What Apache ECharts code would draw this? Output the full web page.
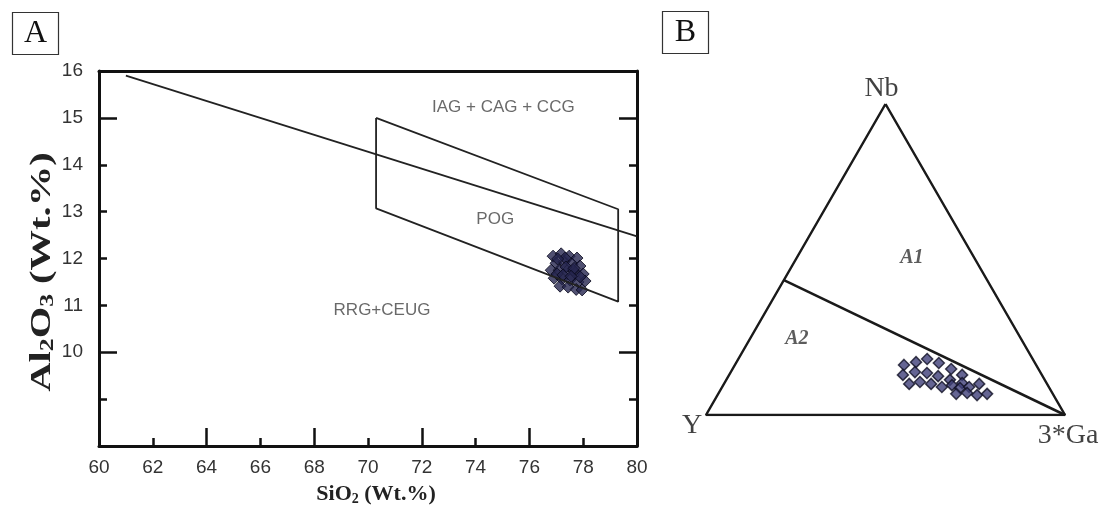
<!DOCTYPE html>
<html><head><meta charset="utf-8">
<script src="https://cdn.jsdelivr.net/npm/echarts@6/dist/echarts.min.js"></script>
<style>html,body{margin:0;padding:0;background:#fff}#c{width:1104px;height:505px}</style>
</head><body><div id="c"></div>
<script>
// ---------- Panel A : SiO2 vs Al2O3 ----------
const sio2  = [76.88,77.18,77.48,77.77,76.99,77.29,77.59,77.88,76.81,77.11,77.40,77.70,78.00,76.92,77.22,77.51,77.81,78.07,77.14,77.44,77.74,77.96,77.33,77.63,77.03,77.88,77.05,77.36,77.66,77.25,77.55];
const al2o3 = [12.05,12.10,12.05,12.01,11.90,11.93,11.88,11.84,11.75,11.75,11.73,11.69,11.67,11.58,11.56,11.54,11.50,11.52,11.41,11.39,11.34,11.33,12.01,11.75,11.67,11.61,11.99,11.82,11.79,11.65,11.62];
const xTickValues = [60,62,64,66,68,70,72,74,76,78,80];
const yTickLabels = [10,11,12,13,14,15,16];
const dividerX = [61, 80];
const dividerY = [15.9, 12.47];
const pogX = [70.3, 79.3, 79.3, 70.3, 70.3];
const pogY = [15.0, 13.05, 11.08, 13.07, 15.0];
const fieldNames = ['IAG + CAG + CCG', 'POG', 'RRG+CEUG'];
const fieldX = [75.03, 74.73, 70.52];
const fieldY = [15.23, 12.84, 10.9];

// ---------- Panel B : Nb - Y - 3*Ga ternary (percent) ----------
const nbPct = [16.1,17.0,18.0,16.7,14.8,12.9,12.9,13.8,13.5,12.5,11.3,10.3,10.0,10.6,10.0,9.0,9.6,8.7,9.0,10.0,6.8,7.1,6.4,6.8];
const gaPct = [47.1,50.0,52.6,56.5,60.9,64.9,48.4,51.3,54.8,58.4,62.3,66.2,51.6,54.3,57.7,61.2,63.7,66.4,68.8,71.1,66.3,69.2,72.3,74.9];
const yPct  = nbPct.map((v,i)=>+(100 - v - gaPct[i]).toFixed(1));
const vertexNames = ['Nb', 'Y', '3*Ga'];
const vertexNb = [100, 0, 0];
const vertexGa = [0, 0, 100];
const boundaryNb = [43.4, 0];
const boundaryGa = [0, 100];
const regionNames = ['A1', 'A2'];
const regionNb = [50.5, 24.4];
const regionGa = [32.1, 13.1];

const S3 = Math.sqrt(3) / 2;
function tern(nb, ga) { return [(ga + nb / 2) / 100, nb * S3 / 100]; }

const ink = '#111';
const axisLineA = { lineStyle: { color: ink, width: 3 } };
const tickStyle = { color: ink, width: 2.5 };
const hidden = { show: false };

const chart = echarts.init(document.getElementById('c'), null, { renderer: 'canvas' });
const option = {
  animation: false,
  backgroundColor: '#fff',
  grid: [
    { left: 99, top: 71, width: 538, height: 375 },
    { left: 706, top: 104, width: 359, height: 311 }
  ],
  xAxis: [
    { gridIndex: 0, type: 'value', min: 60, max: 80, interval: 2, position: 'bottom',
      axisLine: axisLineA, axisTick: { inside: true, length: 8, lineStyle: tickStyle },
      axisLabel: { fontFamily: 'Liberation Sans', fontSize: 19, color: '#333', margin: 12 },
      splitLine: hidden },
    { gridIndex: 0, type: 'value', min: 60, max: 80, interval: 4, position: 'bottom',
      axisLine: hidden, axisTick: { inside: true, length: 18, lineStyle: tickStyle },
      axisLabel: hidden, splitLine: hidden },
    { gridIndex: 0, type: 'value', min: 60, max: 80, interval: 2, position: 'top',
      axisLine: axisLineA, axisTick: hidden, axisLabel: hidden, splitLine: hidden },
    { gridIndex: 1, type: 'value', min: 0, max: 1, show: false }
  ],
  yAxis: [
    { gridIndex: 0, type: 'value', min: 8, max: 16, interval: 1, position: 'left',
      axisLine: axisLineA, axisTick: { inside: true, length: 8, lineStyle: tickStyle },
      axisLabel: { fontFamily: 'Liberation Sans', fontSize: 19, color: '#333', margin: 16,
        formatter: v => yTickLabels.indexOf(v) >= 0 ? String(v) : '' },
      splitLine: hidden },
    { gridIndex: 0, type: 'value', min: 8, max: 16, interval: 1, position: 'left',
      axisLine: hidden, axisTick: { inside: true, length: 18, lineStyle: tickStyle, customValues: [10, 15] },
      axisLabel: hidden, splitLine: hidden },
    { gridIndex: 0, type: 'value', min: 8, max: 16, interval: 1, position: 'right',
      axisLine: axisLineA, axisTick: { inside: true, length: 8, lineStyle: tickStyle },
      axisLabel: hidden, splitLine: hidden },
    { gridIndex: 0, type: 'value', min: 8, max: 16, interval: 1, position: 'right',
      axisLine: hidden, axisTick: { inside: true, length: 18, lineStyle: tickStyle, customValues: [10, 15] },
      axisLabel: hidden, splitLine: hidden },
    { gridIndex: 1, type: 'value', min: 0, max: S3, show: false }
  ],
  graphic: [
    { type: 'rect', shape: { x: 12.5, y: 12.5, width: 46, height: 42 }, style: { fill: '#fff', stroke: '#333', lineWidth: 1.2 } },
    { type: 'text', x: 35.5, y: 34, style: { text: 'A', font: '32px "Liberation Serif"', fill: '#111', align: 'center', verticalAlign: 'middle' } },
    { type: 'rect', shape: { x: 662.5, y: 11.5, width: 46, height: 42 }, style: { fill: '#fff', stroke: '#333', lineWidth: 1.2 } },
    { type: 'text', x: 685.5, y: 33, style: { text: 'B', font: '32px "Liberation Serif"', fill: '#111', align: 'center', verticalAlign: 'middle' } },
    { type: 'text', x: 42, y: 272, rotation: Math.PI / 2, scaleX: 1.35,
      style: { text: '{b|Al}{s|2}{b|O}{s|3}{b| (Wt.%)}', align: 'center', verticalAlign: 'middle', fill: '#222',
        rich: { b: { font: 'bold 30px "Liberation Serif"', fill: '#222' },
                s: { font: 'bold 19px "Liberation Serif"', fill: '#222', padding: [13, 0, 0, 0] } } } },
    { type: 'text', x: 376, y: 494,
      style: { text: '{b|SiO}{s|2}{b| (Wt.%)}', align: 'center', verticalAlign: 'middle', fill: '#222',
        rich: { b: { font: 'bold 22px "Liberation Serif"', fill: '#222' },
                s: { font: 'bold 14px "Liberation Serif"', fill: '#222', padding: [10, 0, 0, 0] } } } }
  ],
  series: [
    { type: 'line', xAxisIndex: 0, yAxisIndex: 0, silent: true, symbol: 'none',
      lineStyle: { color: '#222', width: 1.8 }, data: dividerX.map((x, i) => [x, dividerY[i]]) },
    { type: 'line', xAxisIndex: 0, yAxisIndex: 0, silent: true, symbol: 'none',
      lineStyle: { color: '#222', width: 1.8 }, data: pogX.map((x, i) => [x, pogY[i]]) },
    { type: 'scatter', xAxisIndex: 0, yAxisIndex: 0, silent: true, symbol: 'diamond', symbolSize: [12, 12],
      itemStyle: { color: '#26264f', borderColor: '#08081a', borderWidth: 1 },
      data: sio2.map((x, i) => [x, al2o3[i]]) },
    { type: 'scatter', xAxisIndex: 0, yAxisIndex: 0, silent: true, symbolSize: 1,
      itemStyle: { color: 'rgba(0,0,0,0)' },
      label: { show: true, position: 'inside', formatter: p => p.name, fontFamily: 'Liberation Sans', fontSize: 17, color: '#444' },
      data: fieldNames.map((n, i) => ({ name: n, value: [fieldX[i], fieldY[i]] })) },
    // Panel B
    { type: 'line', xAxisIndex: 3, yAxisIndex: 4, silent: true, symbol: 'none',
      lineStyle: { color: '#1a1a1a', width: 2.5 },
      data: [0, 2, 1, 0].map(i => tern(vertexNb[i], vertexGa[i])) },
    { type: 'line', xAxisIndex: 3, yAxisIndex: 4, silent: true, symbol: 'none',
      lineStyle: { color: '#1a1a1a', width: 2.5 },
      data: boundaryNb.map((n, i) => tern(n, boundaryGa[i])) },
    { type: 'scatter', xAxisIndex: 3, yAxisIndex: 4, silent: true, symbol: 'diamond', symbolSize: [11, 11],
      itemStyle: { color: '#3e3e78', borderColor: '#121226', borderWidth: 1.5 },
      data: nbPct.map((n, i) => tern(n * 100 / (n + gaPct[i] + yPct[i]), gaPct[i] * 100 / (n + gaPct[i] + yPct[i]))) },
    { type: 'scatter', xAxisIndex: 3, yAxisIndex: 4, silent: true, symbolSize: 1,
      itemStyle: { color: 'rgba(0,0,0,0)' },
      label: { show: true, position: 'inside', formatter: p => p.name, fontFamily: 'Liberation Serif', fontSize: 28, color: '#111' },
      data: vertexNames.map((n, i) => ({ name: n, value: tern(vertexNb[i], vertexGa[i]),
        label: { offset: [[-4, -15], [-14, 11], [3, 21]][i] } })) },
    { type: 'scatter', xAxisIndex: 3, yAxisIndex: 4, silent: true, symbolSize: 1,
      itemStyle: { color: 'rgba(0,0,0,0)' },
      label: { show: true, position: 'inside', formatter: p => p.name, fontFamily: 'Liberation Serif', fontSize: 20,
        fontStyle: 'italic', fontWeight: 'bold', color: '#333' },
      data: regionNames.map((n, i) => ({ name: n, value: tern(regionNb[i], regionGa[i]) })) }
  ]
};
chart.setOption(option);
</script></body></html>
